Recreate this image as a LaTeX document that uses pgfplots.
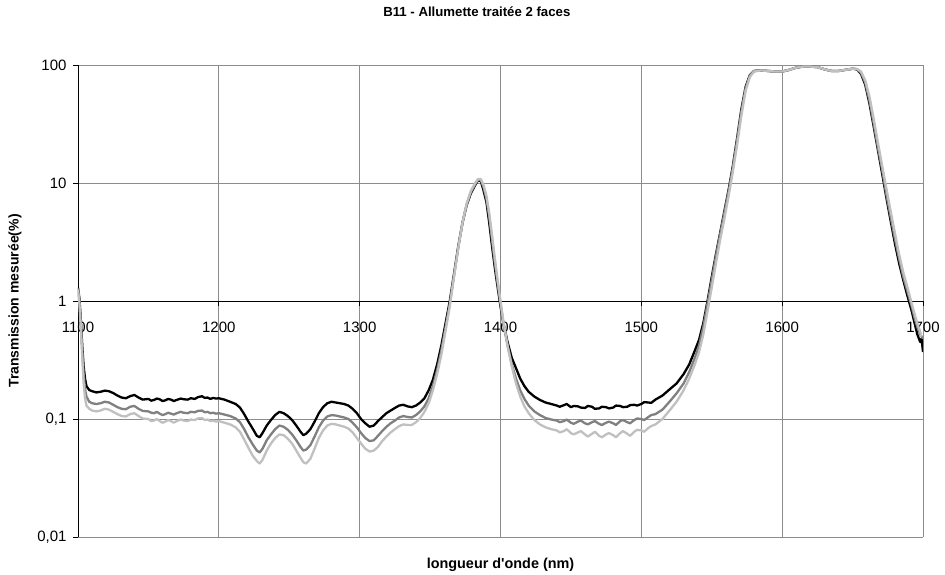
\documentclass[border=0pt]{standalone}
\usepackage{fontspec}
\setmainfont{Liberation Sans}
\usepackage{pgfplots}
\pgfplotsset{compat=1.18}
\definecolor{gridgray}{RGB}{140,140,140}
\definecolor{dgray}{RGB}{128,128,128}
\definecolor{lgray}{RGB}{192,192,192}
\begin{document}
\begin{tikzpicture}
\useasboundingbox (-78pt,-37pt) rectangle (867pt,537pt);
\begin{axis}[
  scale only axis, width=845pt, height=472pt,
  xmin=1100, xmax=1700, ymode=log, ymin=0.01, ymax=100,
  axis x line=middle, axis y line=left,
  axis line style={-, black, line width=0.8pt},
  xtick={1100,1200,1300,1400,1500,1600,1700},
  xticklabels={1100,1200,1300,1400,1500,1600,1700},
  ytick={0.01,0.1,1,10,100},
  yticklabels={{0,01},{0,1},1,10,100},
  yminorticks=false, xminorticks=false,
  hide obscured x ticks=false, hide obscured y ticks=false,
  grid=major,
  major grid style={gridgray, line width=0.8pt},
  tick style={black, line width=0.8pt},
  major tick length=5pt, tick align=outside,
  tick label style={font=\fontsize{15}{18}\selectfont},
  xticklabel style={anchor=north, yshift=-12pt},
  yticklabel style={xshift=-3pt},
  title={B11 - Allumette traitée 2 faces},
  title style={font=\fontsize{13.2}{16}\selectfont\bfseries, at={(axis description cs:0.472,1.0996)}, anchor=center},
  xlabel={longueur d\textquotesingle onde (nm)},
  every axis x label/.style={at={(axis description cs:0.5,-0.0593)}, anchor=center, font=\fontsize{14.4}{17}\selectfont\bfseries},
  ylabel={Transmission mesurée(\%)},
  every axis y label/.style={at={(axis description cs:-0.0746,0.5)}, anchor=center, rotate=90, font=\fontsize{14}{17}\selectfont\bfseries},
  clip=true,
]
% black
\addplot[black, line width=2.3pt, line join=round] coordinates {
(1100,1.30)(1101,1.05)(1102,0.70)(1103,0.42)(1104,0.28)(1105,0.22)(1106,0.19)(1108,0.176)(1110,0.172)(1113,0.168)(1116,0.170)(1119,0.174)(1122,0.172)(1125,0.166)(1128,0.158)(1131,0.152)(1134,0.150)(1137,0.156)(1140,0.160)(1143,0.152)(1146,0.146)(1150,0.148)(1152,0.143)(1154,0.145)(1156,0.149)(1158,0.147)(1160,0.142)(1162,0.144)(1164,0.148)(1166,0.146)(1168,0.142)(1170,0.145)(1173,0.149)(1175,0.147)(1178,0.146)(1180,0.150)(1183,0.148)(1185,0.153)(1188,0.156)(1190,0.151)(1192,0.152)(1194,0.148)(1196,0.151)(1198,0.149)(1200,0.150)(1204,0.146)(1208,0.140)(1212,0.134)(1215,0.125)(1218,0.110)(1221,0.095)(1224,0.083)(1227,0.072)(1229,0.070)(1231,0.076)(1234,0.088)(1237,0.098)(1240,0.108)(1243,0.115)(1246,0.112)(1249,0.106)(1252,0.098)(1255,0.088)(1258,0.078)(1260,0.073)(1262,0.075)(1265,0.082)(1268,0.095)(1271,0.112)(1274,0.126)(1277,0.136)(1280,0.140)(1283,0.138)(1286,0.136)(1289,0.134)(1292,0.130)(1295,0.122)(1298,0.112)(1301,0.100)(1304,0.092)(1307,0.086)(1310,0.088)(1313,0.096)(1316,0.104)(1319,0.112)(1322,0.118)(1325,0.124)(1328,0.130)(1331,0.132)(1334,0.128)(1337,0.126)(1340,0.130)(1343,0.138)(1346,0.150)(1349,0.175)(1352,0.215)(1355,0.29)(1358,0.42)(1361,0.65)(1364,1.0)(1367,1.7)(1370,2.9)(1373,4.6)(1376,6.5)(1379,8.2)(1382,9.6)(1384,10.5)(1386,10.4)(1388,8.6)(1390,6.9)(1392,4.6)(1394,2.9)(1396,1.9)(1398,1.3)(1400,0.9)(1402,0.65)(1405,0.45)(1408,0.33)(1411,0.27)(1414,0.22)(1417,0.19)(1420,0.17)(1424,0.155)(1428,0.145)(1432,0.138)(1436,0.134)(1440,0.130)(1442,0.127)(1445,0.131)(1447,0.134)(1450,0.126)(1452,0.129)(1455,0.128)(1457,0.125)(1460,0.124)(1462,0.129)(1465,0.127)(1467,0.122)(1470,0.123)(1472,0.127)(1475,0.126)(1477,0.123)(1480,0.125)(1482,0.130)(1485,0.129)(1487,0.126)(1490,0.127)(1492,0.131)(1495,0.132)(1497,0.130)(1500,0.134)(1502,0.139)(1505,0.138)(1507,0.137)(1510,0.146)(1515,0.158)(1520,0.178)(1525,0.20)(1530,0.24)(1534,0.29)(1538,0.38)(1541,0.47)(1544,0.65)(1547,1.0)(1550,1.6)(1553,2.5)(1556,3.8)(1559,5.8)(1562,8.8)(1565,14)(1568,24)(1571,42)(1574,65)(1577,82)(1580,89)(1585,90)(1590,89)(1595,88)(1600,88)(1605,91)(1610,95)(1615,97)(1620,97)(1625,96)(1630,92)(1635,89)(1640,89)(1645,91)(1650,93)(1653,92)(1656,84)(1659,68)(1662,47)(1665,30)(1668,19)(1671,12)(1674,7.5)(1677,4.8)(1680,3.1)(1683,2.1)(1686,1.5)(1689,1.1)(1692,0.82)(1694,0.65)(1696,0.52)(1698,0.45)(1699,0.48)(1700,0.37)
};
% dark gray
\addplot[dgray, line width=2.3pt, line join=round] coordinates {
(1100,1.28)(1101,1.0)(1102,0.65)(1103,0.38)(1104,0.24)(1105,0.18)(1106,0.155)(1108,0.14)(1110,0.136)(1113,0.134)(1116,0.136)(1119,0.140)(1122,0.138)(1125,0.132)(1128,0.126)(1131,0.122)(1134,0.121)(1137,0.127)(1140,0.129)(1143,0.122)(1146,0.117)(1150,0.116)(1152,0.113)(1154,0.112)(1156,0.115)(1158,0.111)(1160,0.108)(1162,0.110)(1164,0.113)(1166,0.111)(1168,0.109)(1170,0.112)(1173,0.115)(1175,0.113)(1178,0.112)(1180,0.115)(1183,0.114)(1185,0.117)(1188,0.118)(1190,0.114)(1192,0.115)(1194,0.112)(1196,0.113)(1198,0.111)(1200,0.112)(1204,0.109)(1208,0.106)(1212,0.101)(1215,0.094)(1218,0.082)(1221,0.070)(1224,0.061)(1227,0.054)(1229,0.052)(1231,0.056)(1234,0.066)(1237,0.074)(1240,0.082)(1243,0.088)(1246,0.086)(1249,0.081)(1252,0.074)(1255,0.066)(1258,0.058)(1260,0.054)(1262,0.055)(1265,0.060)(1268,0.071)(1271,0.085)(1274,0.097)(1277,0.105)(1280,0.108)(1283,0.107)(1286,0.105)(1289,0.103)(1292,0.100)(1295,0.093)(1298,0.085)(1301,0.076)(1304,0.069)(1307,0.065)(1310,0.066)(1313,0.072)(1316,0.079)(1319,0.086)(1322,0.092)(1325,0.097)(1328,0.103)(1331,0.106)(1334,0.104)(1337,0.103)(1340,0.108)(1343,0.116)(1346,0.128)(1349,0.150)(1352,0.19)(1355,0.26)(1358,0.38)(1361,0.60)(1364,0.95)(1367,1.65)(1370,2.85)(1373,4.6)(1376,6.6)(1379,8.4)(1382,9.8)(1384,10.6)(1386,10.6)(1388,9.2)(1390,7.4)(1392,5.2)(1394,3.3)(1396,2.1)(1398,1.4)(1400,0.95)(1402,0.65)(1405,0.42)(1408,0.29)(1411,0.22)(1414,0.175)(1417,0.148)(1420,0.130)(1424,0.116)(1428,0.108)(1432,0.102)(1436,0.099)(1440,0.097)(1442,0.094)(1445,0.096)(1447,0.099)(1450,0.093)(1452,0.091)(1455,0.095)(1457,0.097)(1460,0.092)(1462,0.090)(1465,0.094)(1467,0.096)(1470,0.091)(1472,0.089)(1475,0.093)(1477,0.095)(1480,0.092)(1482,0.089)(1485,0.096)(1487,0.098)(1490,0.094)(1492,0.092)(1495,0.098)(1497,0.101)(1500,0.100)(1502,0.098)(1505,0.104)(1507,0.108)(1510,0.110)(1515,0.120)(1520,0.140)(1525,0.165)(1530,0.20)(1534,0.25)(1538,0.33)(1541,0.42)(1544,0.60)(1547,0.95)(1550,1.5)(1553,2.4)(1556,3.7)(1559,5.6)(1562,8.5)(1565,13.5)(1568,23)(1571,40)(1574,63)(1577,81)(1580,89)(1585,90)(1590,89)(1595,88)(1600,88)(1605,91)(1610,95)(1615,97)(1620,97)(1625,96)(1630,92)(1635,89)(1640,89)(1645,91)(1650,93)(1653,92)(1656,86)(1659,71)(1662,50)(1665,32)(1668,20)(1671,13)(1674,8)(1677,5.2)(1680,3.4)(1683,2.3)(1686,1.6)(1689,1.2)(1692,0.9)(1694,0.72)(1696,0.6)(1698,0.52)(1700,0.48)
};
% light gray
\addplot[lgray, line width=2.3pt, line join=round] coordinates {
(1100,1.25)(1101,0.95)(1102,0.6)(1103,0.34)(1104,0.2)(1105,0.15)(1106,0.13)(1108,0.122)(1110,0.118)(1113,0.116)(1116,0.118)(1119,0.122)(1122,0.120)(1125,0.115)(1128,0.110)(1131,0.106)(1134,0.105)(1137,0.110)(1140,0.112)(1143,0.106)(1146,0.101)(1150,0.100)(1152,0.096)(1154,0.097)(1156,0.100)(1158,0.096)(1160,0.093)(1162,0.095)(1164,0.098)(1166,0.096)(1168,0.093)(1170,0.096)(1173,0.099)(1175,0.097)(1178,0.096)(1180,0.099)(1183,0.098)(1185,0.101)(1188,0.102)(1190,0.098)(1192,0.099)(1194,0.096)(1196,0.097)(1198,0.095)(1200,0.096)(1204,0.093)(1208,0.090)(1212,0.085)(1215,0.078)(1218,0.067)(1221,0.057)(1224,0.049)(1227,0.044)(1229,0.042)(1231,0.045)(1234,0.054)(1237,0.062)(1240,0.069)(1243,0.074)(1246,0.073)(1249,0.068)(1252,0.062)(1255,0.054)(1258,0.047)(1260,0.043)(1262,0.042)(1265,0.046)(1268,0.056)(1271,0.069)(1274,0.080)(1277,0.088)(1280,0.091)(1283,0.090)(1286,0.088)(1289,0.086)(1292,0.083)(1295,0.077)(1298,0.069)(1301,0.062)(1304,0.056)(1307,0.053)(1310,0.054)(1313,0.058)(1316,0.065)(1319,0.071)(1322,0.077)(1325,0.082)(1328,0.087)(1331,0.090)(1334,0.089)(1337,0.089)(1340,0.094)(1343,0.102)(1346,0.115)(1349,0.136)(1352,0.175)(1355,0.24)(1358,0.35)(1361,0.56)(1364,0.9)(1367,1.6)(1370,2.8)(1373,4.6)(1376,6.7)(1379,8.6)(1382,10.0)(1384,10.8)(1386,10.8)(1388,9.6)(1390,7.8)(1392,5.6)(1394,3.6)(1396,2.3)(1398,1.5)(1400,1.0)(1402,0.68)(1405,0.42)(1408,0.28)(1411,0.2)(1414,0.155)(1417,0.128)(1420,0.112)(1424,0.098)(1428,0.090)(1432,0.085)(1436,0.082)(1440,0.080)(1442,0.077)(1445,0.079)(1447,0.082)(1450,0.076)(1452,0.074)(1455,0.077)(1457,0.079)(1460,0.074)(1462,0.071)(1465,0.075)(1467,0.078)(1470,0.072)(1472,0.070)(1475,0.074)(1477,0.076)(1480,0.073)(1482,0.070)(1485,0.076)(1487,0.079)(1490,0.075)(1492,0.072)(1495,0.078)(1497,0.081)(1500,0.080)(1502,0.078)(1505,0.084)(1507,0.087)(1510,0.090)(1515,0.100)(1520,0.118)(1525,0.140)(1530,0.175)(1534,0.22)(1538,0.29)(1541,0.37)(1544,0.52)(1547,0.82)(1550,1.3)(1553,2.1)(1556,3.3)(1559,5.0)(1562,7.8)(1565,12.5)(1568,21)(1571,37)(1574,60)(1577,79)(1580,88)(1585,90)(1590,89)(1595,88)(1600,88)(1605,91)(1610,95)(1615,97)(1620,97)(1625,96)(1630,92)(1635,89)(1640,89)(1645,91)(1650,93)(1653,93)(1656,88)(1659,74)(1662,54)(1665,35)(1668,22)(1671,14)(1674,9)(1677,5.8)(1680,3.8)(1683,2.5)(1686,1.75)(1689,1.3)(1692,0.95)(1694,0.78)(1696,0.64)(1698,0.55)(1699,0.5)
};
\end{axis}
\end{tikzpicture}
\end{document}
